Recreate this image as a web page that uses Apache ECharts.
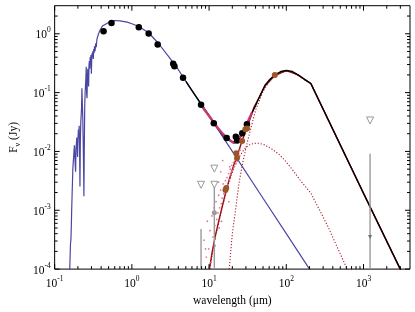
<!DOCTYPE html>
<html>
<head>
<meta charset="utf-8">
<script src="https://cdn.jsdelivr.net/npm/echarts@6/dist/echarts.min.js"></script>
<style>
html,body{margin:0;padding:0;background:#fff;}
#chart{width:415px;height:312px;}
</style>
</head>
<body>
<div id="chart"></div>
<script>
// ---------------- data (wavelength in micron, flux in Jy) ----------------
const stellarWave = [0.1567,0.1585,0.1604,0.1623,0.1642,0.1662,0.1681,0.1701,0.1721,0.1742,0.1762,0.1783,0.1804,0.1825,0.1847,0.1869,0.1891,0.1913,0.1936,0.1959,0.1982,0.2006,0.2029,0.2053,0.2078,0.2102,0.2127,0.2152,0.2178,0.2204,0.2230,0.2256,0.2283,0.2310,0.2337,0.2365,0.2393,0.2421,0.2450,0.2479,0.2506,0.2536,0.2566,0.2596,0.2627,0.2658,0.2689,0.2721,0.2753,0.2786,0.2818,0.2852,0.2885,0.2919,0.2954,0.2989,0.3024,0.3060,0.3096,0.3133,0.3170,0.3207,0.3245,0.3283,0.3341,0.3401,0.3461,0.3522,0.3584,0.3648,0.3712,0.3802,0.3915,0.4030,0.4150,0.4274,0.4402,0.50,0.59,0.70,0.87,1.0,1.23,1.65,2.2,3.0,4.0,5.0,7.0,10,20,50,100,200,300];
const stellarFlux = [9.4e-5,1.60e-4,2.74e-4,3.08e-4,5.07e-4,1.01e-3,1.73e-3,2.96e-3,5.07e-3,6.64e-3,8.04e-3,1.05e-2,1.27e-2,8.67e-3,5.91e-3,4.52e-3,1.09e-2,1.37e-2,1.73e-2,1.18e-2,8.04e-3,1.60e-2,2.35e-2,1.73e-2,2.74e-2,1.18e-2,2.54e-3,1.43e-2,3.08e-2,4.03e-2,5.47e-2,0.118,0.0663,4.03e-2,1.73e-2,6.64e-3,1.73e-3,1.18e-2,5.47e-2,0.0973,0.127,0.173,0.274,0.0973,0.0804,0.187,0.254,0.235,0.127,0.296,0.345,0.254,0.403,0.320,0.435,0.21,0.373,0.470,0.403,0.507,0.373,0.548,0.470,0.614,0.507,0.689,0.591,0.80,0.744,0.937,0.867,1.09,1.18,1.27,1.35,1.40,1.43,1.56,1.68,1.66,1.58,1.48,1.33,1.04,0.69,0.41,0.245,0.157,0.081,0.040,0.0100,0.0016,4.0e-4,1.0e-4,4.4e-5];

const totalWave = [5,6,7.87,10,12,15,17,20,22,24,27,31,35,39.5,45,53,62,71,85,100,120,141.6,170,208,1000,4000];
const totalFlux = [0.155,0.108,0.064,0.041,0.0282,0.019,0.0162,0.0145,0.0150,0.0165,0.020,0.029,0.042,0.058,0.085,0.133,0.17,0.2,0.228,0.238,0.228,0.2,0.17,0.143,1.95e-3,4.6e-5];

const dustWave = [10.1,11,12,13.5,15,16.9,19,21,23.1,26,30,34,37.8,45,53,71,100,141.6,208,1000,4000];
const dustFlux = [1.0e-4,2.0e-4,3.6e-4,7e-4,1.25e-3,2.35e-3,4.0e-3,6.0e-3,8.3e-3,0.0135,0.023,0.036,0.055,0.085,0.13,0.195,0.236,0.2,0.142,1.94e-3,4.5e-5];

const coldWave = [18.2,20,22,24.4,27,30,33,40,50,60,70,85,100,120,141.6,170,208,1000,4000];
const coldFlux = [1e-4,4e-4,1.0e-3,2.9e-3,6e-3,0.0115,0.019,0.05,0.105,0.155,0.19,0.22,0.232,0.225,0.198,0.168,0.142,1.93e-3,4.5e-5];

const warmWave = [10.2,12,15,18,21,24,27,29.5,34,40,44,52,65,80,95.5,120,150,190,208,341,614,800];
const warmFlux = [1e-4,3.4e-4,1.2e-3,2.9e-3,5.2e-3,7.7e-3,9.8e-3,0.0115,0.0132,0.0138,0.0138,0.0130,0.011,0.009,0.0071,4.9e-3,3.3e-3,2.25e-3,1.96e-3,5.5e-4,1e-4,4.8e-5];

const irsWave = [7.9,8.5,10,11.5,13,15,17,19,20,21,22,23,24,26,28,30,33,36];
const irsFlux = [0.064,0.053,0.040,0.031,0.025,0.020,0.017,0.0152,0.0141,0.0139,0.0142,0.0148,0.016,0.0185,0.022,0.027,0.036,0.046];

const excessWave = [8.6,9.2,9.5,9.9,10.3,10.6,10.9,11.2,11.6,11.9,12.3,12.6,13.0,13.3,13.7,14.1,14.4,14.8,15.2,15.5,15.9,16.3,16.7,17.1,17.5,17.9,18.3,18.8,19.2,19.7,20.2,20.7,21.2,21.8,22.3,22.8,23.4,24.0,24.6,25.2,13.5,14.5,12.0,10.0,18.0,14.2,15.0,13.2,18.5,19.5,9.0];
const excessFlux = [3.1e-4,1.6e-4,6.5e-4,2.2e-4,4.5e-4,1.3e-4,8e-4,3.5e-4,1.1e-3,5.5e-4,1.4e-3,7e-4,9e-4,1.8e-3,1.1e-3,2.2e-3,1.3e-3,1.6e-3,2.8e-3,1.9e-3,2.4e-3,3.2e-3,2.0e-3,3.6e-3,2.7e-3,4.2e-3,3.3e-3,5.0e-3,4.0e-3,5.8e-3,4.8e-3,6.5e-3,5.5e-3,7.2e-3,6.3e-3,8.0e-3,7.0e-3,9.0e-3,8.2e-3,0.0105,5e-4,6.5e-4,2.5e-4,1.1e-4,1.4e-3,4.5e-3,7e-3,3e-3,5.5e-3,4.5e-3,2.2e-4];

const photWave = [0.43,0.545,1.23,1.65,2.16,3.43,3.56,4.6,7.87,11.5,16.9,22.2,23.1,26.9,30.9];
const photFlux = [1.10,1.52,1.29,1.01,0.66,0.31,0.28,0.178,0.062,0.030,0.0169,0.0178,0.0153,0.0204,0.0289];

const brownWave = [16.3,16.7,22.5,23.0,26.8,29.5,31,71];
const brownFlux = [2.2e-3,2.4e-3,9.3e-3,7.7e-3,0.0150,0.0238,0.0245,0.20];

const limitWave = [7.87,11.7,11.7,1216];
const limitFlux = [2.71e-3,2.71e-3,5.1e-3,0.0336];

const grayWave = [11.7];
const grayFlux = [9.1e-4];
const errWave = [7.87,11.7,1216];
const errTop = [4.8e-4,2.9e-3,9.1e-3];
const arrowWave = [1216];
const arrowFlux = [3.5e-4];

const xMajorTicks = [0.1,1,10,100,1000];
const xMinorTicks = [0.2,0.3,0.4,0.5,0.6,0.7,0.8,0.9,2,3,4,5,6,7,8,9,20,30,40,50,60,70,80,90,200,300,400,500,600,700,800,900,2000,3000];
const yMajorTicks = [1e-4,1e-3,1e-2,1e-1,1];
const yMinorTicks = [2e-4,3e-4,4e-4,5e-4,6e-4,7e-4,8e-4,9e-4,2e-3,3e-3,4e-3,5e-3,6e-3,7e-3,8e-3,9e-3,0.02,0.03,0.04,0.05,0.06,0.07,0.08,0.09,0.2,0.3,0.4,0.5,0.6,0.7,0.8,0.9,2];

const XMIN = 0.1, XMAX = 4000, YMIN = 1e-4, YMAX = 3;
// -------------------------------------------------------------------------

const zip = (a, b) => a.map((v, i) => [v, b[i]]);
const FONT = '"Liberation Serif","DejaVu Serif",serif';

function powLabel(v) {
  const l = Math.log10(v);
  const e = Math.round(l);
  if (Math.abs(l - e) > 1e-6) return '';
  return '{b|10}{s|' + e + '}';
}
const richPow = {
  b: {fontFamily: FONT, fontSize: 11.5, color: '#000', lineHeight: 15, verticalAlign: 'bottom'},
  s: {fontFamily: FONT, fontSize: 7.5, color: '#000', lineHeight: 9, verticalAlign: 'top'}
};

const tickData = [];
xMajorTicks.forEach(v => tickData.push([v, YMIN, 0, 5]));
xMinorTicks.forEach(v => tickData.push([v, YMIN, 0, 3]));
yMajorTicks.forEach(v => tickData.push([XMIN, v, 1, 5]));
yMinorTicks.forEach(v => tickData.push([XMIN, v, 1, 3]));

const chart = echarts.init(document.getElementById('chart'), null, {renderer: 'canvas'});
const lineStyleCommon = {type: 'line', showSymbol: false, symbol: 'none', silent: true, clip: true};

chart.setOption({
  animation: false,
  backgroundColor: '#fff',
  grid: {left: 49.5, right: 5, top: 5.7, bottom: 38, show: true, borderColor: '#000', borderWidth: 1, containLabel: false},
  xAxis: {
    type: 'log', logBase: 10, min: XMIN, max: XMAX,
    axisLine: {show: false}, axisTick: {show: false}, splitLine: {show: false}, minorTick: {show: false},
    axisLabel: {formatter: powLabel, rich: richPow, margin: 6, showMinLabel: true, showMaxLabel: true},
    name: 'wavelength (μm)', nameLocation: 'middle', nameGap: 21,
    nameTextStyle: {fontFamily: FONT, fontSize: 11.5, color: '#000'}
  },
  yAxis: {
    type: 'log', logBase: 10, min: YMIN, max: YMAX,
    axisLine: {show: false}, axisTick: {show: false}, splitLine: {show: false}, minorTick: {show: false},
    axisLabel: {formatter: powLabel, rich: richPow, margin: 4},
    name: '{a|F}{sub|ν}{a| (Jy)}', nameLocation: 'middle', nameGap: 30, nameRotate: 90,
    nameTextStyle: {
      rich: {
        a: {fontFamily: FONT, fontSize: 11.5, color: '#000', lineHeight: 14, verticalAlign: 'top'},
        sub: {fontFamily: FONT, fontSize: 8, color: '#000', lineHeight: 9, verticalAlign: 'bottom'}
      }
    }
  },
  series: [
    Object.assign({}, lineStyleCommon, {name: 'stellar', data: zip(stellarWave, stellarFlux), lineStyle: {color: '#4a47a0', width: 1.2}, z: 2}),
    Object.assign({}, lineStyleCommon, {name: 'cold', data: zip(coldWave, coldFlux), lineStyle: {color: '#b01e2a', width: 1.1, type: [1.2, 1.8]}, z: 3}),
    Object.assign({}, lineStyleCommon, {name: 'warm', data: zip(warmWave, warmFlux), lineStyle: {color: '#b01e2a', width: 1.1, type: [1.2, 1.8]}, z: 3}),
    Object.assign({}, lineStyleCommon, {name: 'dust', data: zip(dustWave, dustFlux), lineStyle: {color: '#9c0f14', width: 1.4}, z: 4}),
    Object.assign({}, lineStyleCommon, {name: 'total', data: zip(totalWave, totalFlux), lineStyle: {color: '#000', width: 1.4}, z: 5}),
    Object.assign({}, lineStyleCommon, {name: 'irs', data: zip(irsWave, irsFlux), lineStyle: {color: '#c23b72', width: 2.4}, z: 6}),
    {type: 'scatter', name: 'excess', data: zip(excessWave, excessFlux), symbol: 'circle', symbolSize: 1.8, itemStyle: {color: '#e07a9c', opacity: 1}, z: 6, silent: true, clip: true},
    {
      type: 'custom', name: 'errbars', silent: true, clip: true, z: 7,
      data: errWave.map((w, i) => [w, errTop[i], YMIN]),
      renderItem: function (params, api) {
        const a = api.coord([api.value(0), api.value(1)]);
        const b = api.coord([api.value(0), api.value(2)]);
        return {type: 'line', shape: {x1: a[0], y1: a[1], x2: b[0], y2: b[1]}, style: {stroke: '#9a9a9a', lineWidth: 1.4}};
      }
    },
    {type: 'scatter', name: 'limits', data: zip(limitWave, limitFlux), symbol: 'triangle', symbolRotate: 180, symbolSize: 7, itemStyle: {color: '#fff', borderColor: '#9a9a9a', borderWidth: 1, opacity: 1}, z: 8, silent: true},
    {type: 'scatter', name: 'gray', data: zip(grayWave, grayFlux), symbol: 'circle', symbolSize: 5, itemStyle: {color: '#9a9a9a', opacity: 1}, z: 8, silent: true},
    {type: 'scatter', name: 'arrow', data: zip(arrowWave, arrowFlux), symbol: 'triangle', symbolRotate: 180, symbolSize: 4, itemStyle: {color: '#707070', opacity: 1}, z: 8, silent: true},
    {type: 'scatter', name: 'phot', data: zip(photWave, photFlux), symbol: 'circle', symbolSize: 6.5, itemStyle: {color: '#000', opacity: 1}, z: 9, silent: true},
    {type: 'scatter', name: 'brown', data: zip(brownWave, brownFlux), symbol: 'circle', symbolSize: 6, itemStyle: {color: '#9c5526', opacity: 1}, z: 10, silent: true},
    {
      type: 'custom', name: 'ticks', silent: true, clip: false, z: 20,
      data: tickData,
      renderItem: function (params, api) {
        const v0 = api.value(0), v1 = api.value(1), isY = api.value(2), len = api.value(3);
        if (!isY) {
          const p = api.coord([v0, YMIN]);
          const q = api.coord([v0, YMAX]);
          return {type: 'group', children: [
            {type: 'line', shape: {x1: p[0], y1: p[1], x2: p[0], y2: p[1] - len}, style: {stroke: '#000', lineWidth: 1}},
            {type: 'line', shape: {x1: q[0], y1: q[1], x2: q[0], y2: q[1] + len}, style: {stroke: '#000', lineWidth: 1}}
          ]};
        } else {
          const p = api.coord([XMIN, v1]);
          const q = api.coord([XMAX, v1]);
          return {type: 'group', children: [
            {type: 'line', shape: {x1: p[0], y1: p[1], x2: p[0] + len, y2: p[1]}, style: {stroke: '#000', lineWidth: 1}},
            {type: 'line', shape: {x1: q[0], y1: q[1], x2: q[0] - len, y2: q[1]}, style: {stroke: '#000', lineWidth: 1}}
          ]};
        }
      }
    }
  ]
});
</script>
</body>
</html>
